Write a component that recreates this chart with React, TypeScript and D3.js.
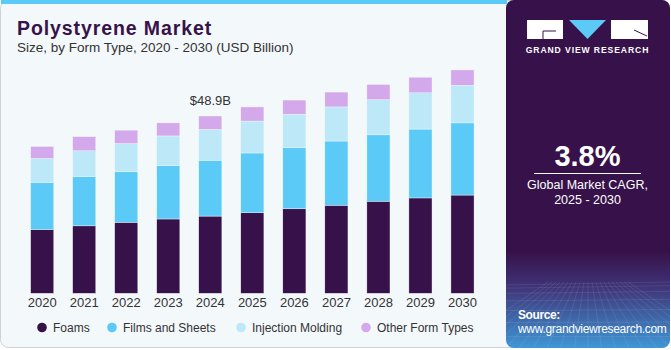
import React from 'react';
import * as d3 from 'd3';

// values (USD Billion)
const years = ['2020', '2021', '2022', '2023', '2024', '2025', '2026', '2027', '2028', '2029', '2030'];
const foams = [17.6, 18.6, 19.6, 20.5, 21.3, 22.2, 23.3, 24.3, 25.4, 26.3, 27.1];
const filmsSheets = [13.0, 13.6, 13.9, 14.7, 15.4, 16.5, 16.9, 17.7, 18.3, 19.0, 19.9];
const injectionMolding = [6.6, 7.1, 7.8, 8.2, 8.5, 8.8, 9.2, 9.4, 9.7, 10.0, 10.4];
const otherTypes = [3.3, 3.9, 3.7, 3.6, 3.7, 3.9, 3.9, 4.1, 4.2, 4.3, 4.2];

const seriesNames = ['Foams', 'Films and Sheets', 'Injection Molding', 'Other Form Types'];
const seriesColors = ['#37124a', '#5ccaf6', '#bde8f8', '#d4a9eb'];
const annotationYear = '2024';
const annotationText = '$48.9B';

const W = 671;
const H = 350;
const panelX = 506;

const App: React.FC = () => {
    const rows = years.map((y, i) => ({
        year: y,
        s0: foams[i],
        s1: filmsSheets[i],
        s2: injectionMolding[i],
        s3: otherTypes[i],
    }));
    const stacked = d3.stack<any>().keys(['s0', 's1', 's2', 's3'])(rows);

    const x = d3
        .scaleBand()
        .domain(years)
        .range([21.2, 483.5])
        .paddingInner(0.45)
        .paddingOuter(0.225);
    const y = d3.scaleLinear().domain([0, 70]).range([293.3, 39.5]);

    const annIdx = years.indexOf(annotationYear);
    const annTop = stacked[3][annIdx][1];

    const legendX = [42, 112, 241, 366];

    // faint grid in the panel bottom
    const gridRows = d3.range(0, 8);
    const gridCols = d3.range(-10, 11);

    const font = '"Liberation Sans", Arial, sans-serif';

    return (
        <svg
            width={W}
            height={H}
            style={{ position: 'absolute', left: 0, top: 0, display: 'block' }}
            fontFamily={font}
        >
            <defs>
                <linearGradient id="panelGrad" x1="0" y1="0" x2="0" y2="1">
                    <stop offset="0" stopColor="#37124a" />
                    <stop offset="0.72" stopColor="#37124a" />
                    <stop offset="0.82" stopColor="#3f3478" />
                    <stop offset="1" stopColor="#3f9ad8" />
                </linearGradient>
                <clipPath id="panelClip">
                    <rect x={panelX} y={0} width={W - panelX - 1} height={H - 2} rx={8} />
                </clipPath>
            </defs>
            <rect x={0} y={0} width={W} height={H} fill="#ffffff" />
            <rect x={0.5} y={0.5} width={W - 2} height={H - 3} rx={8} fill="#f3f8fb" stroke="#cfd3d6" />
            <rect x={1} y={0} width={panelX} height={4} fill="#5ccaf6" />

            {/* title */}
            <text x={17} y={35} fontSize={19.5} fontWeight={900} letterSpacing={0.9} fill="#37124a">
                Polystyrene Market
            </text>
            <text x={17} y={52} fontSize={13.5} fill="#333333">
                Size, by Form Type, 2020 - 2030 (USD Billion)
            </text>

            {/* bars */}
            {stacked.map((layer, li) => (
                <g key={li} fill={seriesColors[li]}>
                    {layer.map((d, i) => (
                        <rect
                            key={i}
                            x={x(years[i])}
                            y={y(d[1])}
                            width={x.bandwidth()}
                            height={y(d[0]) - y(d[1])}
                            stroke="#f3f8fb"
                            strokeWidth={0.4}
                        />
                    ))}
                </g>
            ))}

            <text
                x={x(annotationYear)! + x.bandwidth() / 2}
                y={y(annTop) - 11}
                textAnchor="middle"
                fontSize={13}
                fill="#333333"
            >
                {annotationText}
            </text>

            {/* x axis labels */}
            {years.map((yr) => (
                <text
                    key={yr}
                    x={x(yr)! + x.bandwidth() / 2}
                    y={307}
                    textAnchor="middle"
                    fontSize={13}
                    fill="#333333"
                >
                    {yr}
                </text>
            ))}

            {/* legend */}
            {seriesNames.map((name, i) => (
                <g key={name}>
                    <circle cx={legendX[i]} cy={327.5} r={4.8} fill={seriesColors[i]} />
                    <text x={legendX[i] + 11} y={332} fontSize={12} fill="#333333">
                        {name}
                    </text>
                </g>
            ))}

            {/* right panel */}
            <g clipPath="url(#panelClip)">
                <rect x={panelX} y={0} width={W - panelX} height={H} fill="url(#panelGrad)" />
                <g stroke="#ffffff" strokeOpacity={0.13} strokeWidth={0.7} fill="none">
                    {gridRows.map((r) => (
                        <line
                            key={'r' + r}
                            x1={panelX}
                            x2={W}
                            y1={285 + r * r * 1.1 + r * 2}
                            y2={282 + r * r * 1.1 + r * 2.5}
                        />
                    ))}
                    {gridCols.map((c) => (
                        <line key={'c' + c} x1={588 + c * 4} y1={282} x2={588 + c * 14} y2={H} />
                    ))}
                </g>
            </g>

            {/* logo */}
            <g>
                <rect x={527} y={20} width={36} height={19} fill="#ffffff" />
                <path d="M543,39 V31 H556" fill="none" stroke="#37124a" strokeWidth={1} />
                <path d="M569,20 H606 L587.5,39 Z" fill="#5ccaf6" />
                <rect x={611} y={20} width={37} height={19} fill="#ffffff" />
                <path d="M634,30 L647,36" fill="none" stroke="#37124a" strokeWidth={1} />
                <text
                    x={587.5}
                    y={53}
                    textAnchor="middle"
                    fontSize={8.6}
                    fontWeight={700}
                    letterSpacing={0.9}
                    fill="#ffffff"
                >
                    GRAND VIEW RESEARCH
                </text>
            </g>

            <text x={587.5} y={166} textAnchor="middle" fontSize={29} fontWeight={700} fill="#ffffff">
                3.8%
            </text>
            <line x1={534} x2={641} y1={173.5} y2={173.5} stroke="#ffffff" strokeWidth={1} />
            <text x={587.5} y={189} textAnchor="middle" fontSize={12.5} fill="#ffffff">
                Global Market CAGR,
            </text>
            <text x={587.5} y={204} textAnchor="middle" fontSize={12.5} fill="#ffffff">
                2025 - 2030
            </text>

            <text x={518} y={319} fontSize={12} fontWeight={700} fill="#ffffff" letterSpacing={-0.4}>
                Source:
            </text>
            <text x={518} y={333} fontSize={12} fill="#ffffff" letterSpacing={-0.3}>
                www.grandviewresearch.com
            </text>
        </svg>
    );
};

export default App;
